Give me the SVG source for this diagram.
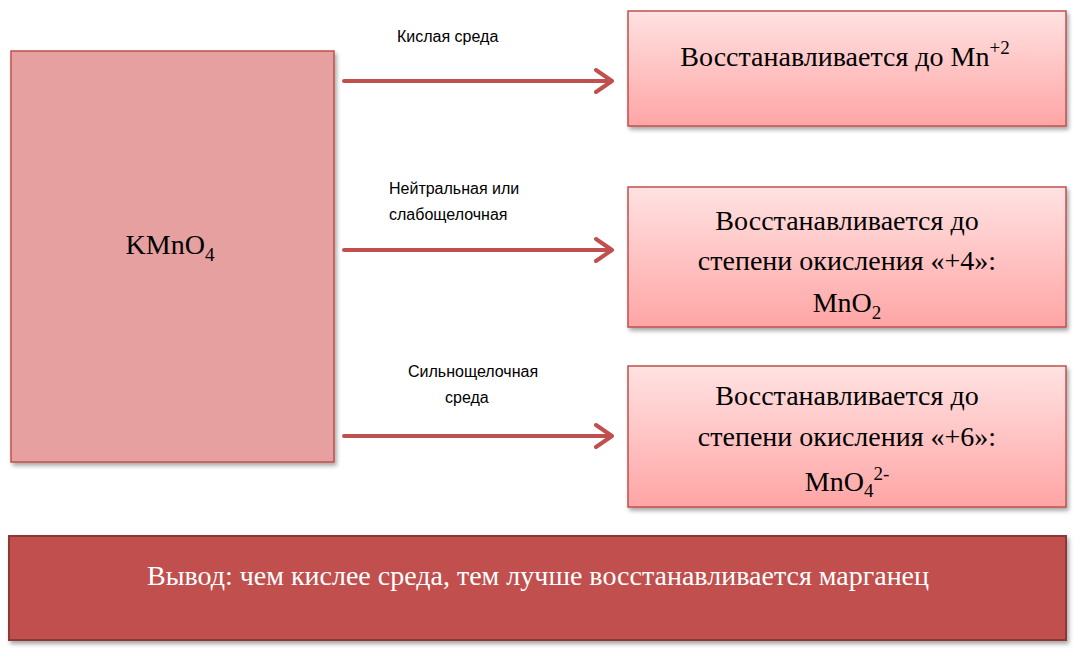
<svg xmlns="http://www.w3.org/2000/svg" width="1076" height="649" viewBox="0 0 1076 649">
<style>
.t{font-family:"Liberation Serif",serif;fill:#000}
.b{fill:url(#g);stroke:#c0504d;stroke-width:1.5}
.s{font-family:"Liberation Sans",sans-serif;font-size:16px;fill:#000}
.c{stroke:#c0504d;stroke-width:4;fill:none;stroke-linecap:round;stroke-linejoin:round}
</style>
<defs>
<linearGradient id="g" x1="0" y1="0" x2="0" y2="1"><stop offset="0" stop-color="#ffe2e2"/><stop offset="1" stop-color="#ffa5a5"/></linearGradient>
<filter id="sh" x="-5%" y="-5%" width="112%" height="115%"><feDropShadow dx="2" dy="3" stdDeviation="2" flood-color="#000" flood-opacity="0.35"/></filter>
</defs>
<rect width="1076" height="649" fill="#fff"/>
<g id="kmno4"><rect x="11" y="51" width="323" height="411" fill="#e5a09f" stroke="#c0504d" stroke-width="1.5" filter="url(#sh)"/>
<text class="t" x="170" y="254" font-size="28" text-anchor="middle">KMnO<tspan font-size="19" dy="7">4</tspan></text></g>
<g id="n1"><rect class="b" x="628" y="11" width="438" height="115" filter="url(#sh)"/>
<text class="t" x="845" y="66" font-size="28" text-anchor="middle">Восстанавливается до Mn<tspan font-size="19" dy="-12">+2</tspan></text></g>
<g id="n2"><rect class="b" x="628" y="187" width="438" height="140" filter="url(#sh)"/>
<text class="t" x="847" y="230" font-size="28" text-anchor="middle">Восстанавливается до</text>
<text class="t" x="847" y="270" font-size="28" text-anchor="middle">степени окисления «+4»:</text>
<text class="t" x="847" y="312" font-size="28" text-anchor="middle">MnO<tspan font-size="19" dy="7">2</tspan></text></g>
<g id="n3"><rect class="b" x="628" y="366" width="438" height="141" filter="url(#sh)"/>
<text class="t" x="847" y="405" font-size="28" text-anchor="middle">Восстанавливается до</text>
<text class="t" x="847" y="446" font-size="28" text-anchor="middle">степени окисления «+6»:</text>
<text class="t" x="847" y="491" font-size="28" text-anchor="middle">MnO<tspan font-size="19" dy="6">4</tspan><tspan font-size="19" dy="-17">2-</tspan></text></g>
<g id="concl"><rect x="9" y="536" width="1057" height="104" fill="#c0504d" stroke="#8c3836" stroke-width="2" filter="url(#sh)"/>
<text x="538" y="585" font-size="28" text-anchor="middle" style="font-family:'Liberation Serif',serif;fill:#fff">Вывод: чем кислее среда, тем лучше восстанавливается марганец</text></g>
<g id="connectors">
<path class="c" d="M344 81H612M596 70L612 81L596 92"/>
<path class="c" d="M344 250H612M596 239L612 250L596 261"/>
<path class="c" d="M344 436H612M596 425L612 436L596 447"/>
<text class="s" x="397" y="42">Кислая среда</text>
<text class="s" x="389" y="194">Нейтральная или</text>
<text class="s" x="389" y="220">слабощелочная</text>
<text class="s" x="408" y="377">Сильнощелочная</text>
<text class="s" x="445" y="403">среда</text>
</g>
</svg>
